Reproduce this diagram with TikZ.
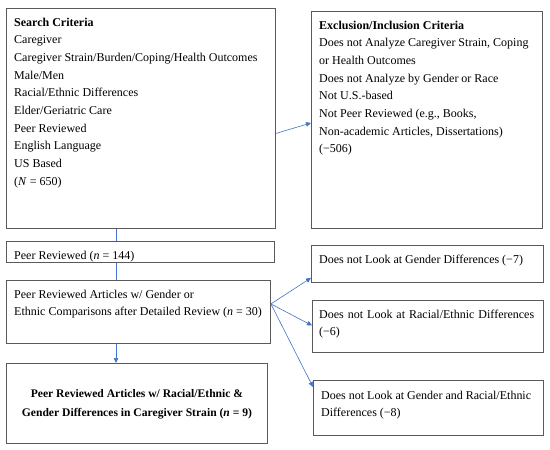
\documentclass[tikz,border=0pt]{standalone}
\usepackage{fontspec}
\setmainfont{Liberation Serif}
\usepackage{xcolor}
\usetikzlibrary{arrows.meta,positioning,calc}

\definecolor{boxgray}{HTML}{5A5A5A}
\definecolor{linkblue}{HTML}{4472C4}

\tikzset{
  frame/.style={draw=boxgray, line width=0.9pt, rectangle, anchor=north west, inner sep=0pt},
  txt/.style={anchor=north west, align=left, inner sep=0pt,
    font=\fontsize{12}{17.7}\selectfont},
  link/.style={draw=linkblue, line width=0.6pt},
  flow/.style={link, -{Triangle[length=5pt,width=4.5pt]}}
}

\begin{document}
\begin{tikzpicture}[x=1pt, y=-1pt]
    \useasboundingbox (0,0) rectangle (550,450);

    % Left column
    \node[frame, minimum width=269pt, minimum height=220pt] (search) at (6,8) {};
    \node[txt] (searchtxt) at (14,17.5) {\textbf{Search Criteria}\\
      Caregiver\\
      Caregiver Strain/Burden/Coping/Health Outcomes\\
      Male/Men\\
      Racial/Ethnic Differences\\
      Elder/Geriatric Care\\
      Peer Reviewed\\
      English Language\\
      US Based\\
      (\textit{N} = 650)};

    \node[frame, minimum width=268pt, minimum height=21pt] (peer) at (6,241) {};
    \node[txt] (peertxt) at (14,250.5) {Peer Reviewed (\textit{n} = 144)};

    \node[frame, minimum width=264pt, minimum height=63pt] (arts) at (6,280) {};
    \node[txt] (artstxt) at (14,289.5) {Peer Reviewed Articles w/ Gender or\\
      Ethnic Comparisons after Detailed Review (\textit{n} = 30)};

    \node[frame, minimum width=261pt, minimum height=80pt] (final) at (6,363) {};
    \node[txt, anchor=center, align=center, font=\fontsize{11.6}{19}\selectfont] (finaltxt)
      at ([yshift=-1pt]final.center)
      {\textbf{Peer Reviewed Articles w/ Racial/Ethnic \&}\\
       \textbf{Gender Differences in Caregiver Strain (\textit{n} = 9)}};

    % Right column
    \node[frame, minimum width=231pt, minimum height=217pt] (excl) at (311,11) {};
    \node[txt] (excltxt) at (319,20.5) {\textbf{Exclusion/Inclusion Criteria}\\
      Does not Analyze Caregiver Strain, Coping\\
      or Health Outcomes\\
      Does not Analyze by Gender or Race\\
      Not U.S.-based\\
      Not Peer Reviewed (e.g., Books,\\
      Non-academic Articles, Dissertations)\\
      (−506)};

    \node[frame, minimum width=232pt, minimum height=37pt] (gender) at (311,245) {};
    \node[txt] (gendertxt) at (319,254.5) {Does not Look at Gender Differences (−7)};

    \node[frame, minimum width=231pt, minimum height=52pt] (racial) at (312,300) {};
    \node[txt] (racialtxt) at (319,309.5) {\makebox[215pt][s]{Does not Look at Racial/Ethnic Differences}\\
      (−6)};

    \node[frame, minimum width=230pt, minimum height=55pt] (both) at (313,380) {};
    \node[txt] (bothtxt) at (321,390.5) {Does not Look at Gender and Racial/Ethnic\\
      Differences (−8)};

    % Connectors
    \coordinate (spine) at ([xshift=110pt]search.south west);
    \draw[link] (spine) -- (spine |- peer.north);
    \draw[link] (spine |- peer.south) -- (spine |- arts.north);
    \draw[flow] (spine |- arts.south) -- (spine |- final.north);

    \draw[flow] ([yshift=-15pt]search.east) -- ([yshift=-3pt]excl.west);

    \coordinate (fork) at ([yshift=8pt]arts.east);
    \draw[flow] (fork) -- ([yshift=5pt]gender.south west);
    \draw[flow] (fork) -- ([yshift=1pt]racial.west);
    \draw[flow] (fork) -- ([yshift=-7pt]both.north west);
\end{tikzpicture}
\end{document}
